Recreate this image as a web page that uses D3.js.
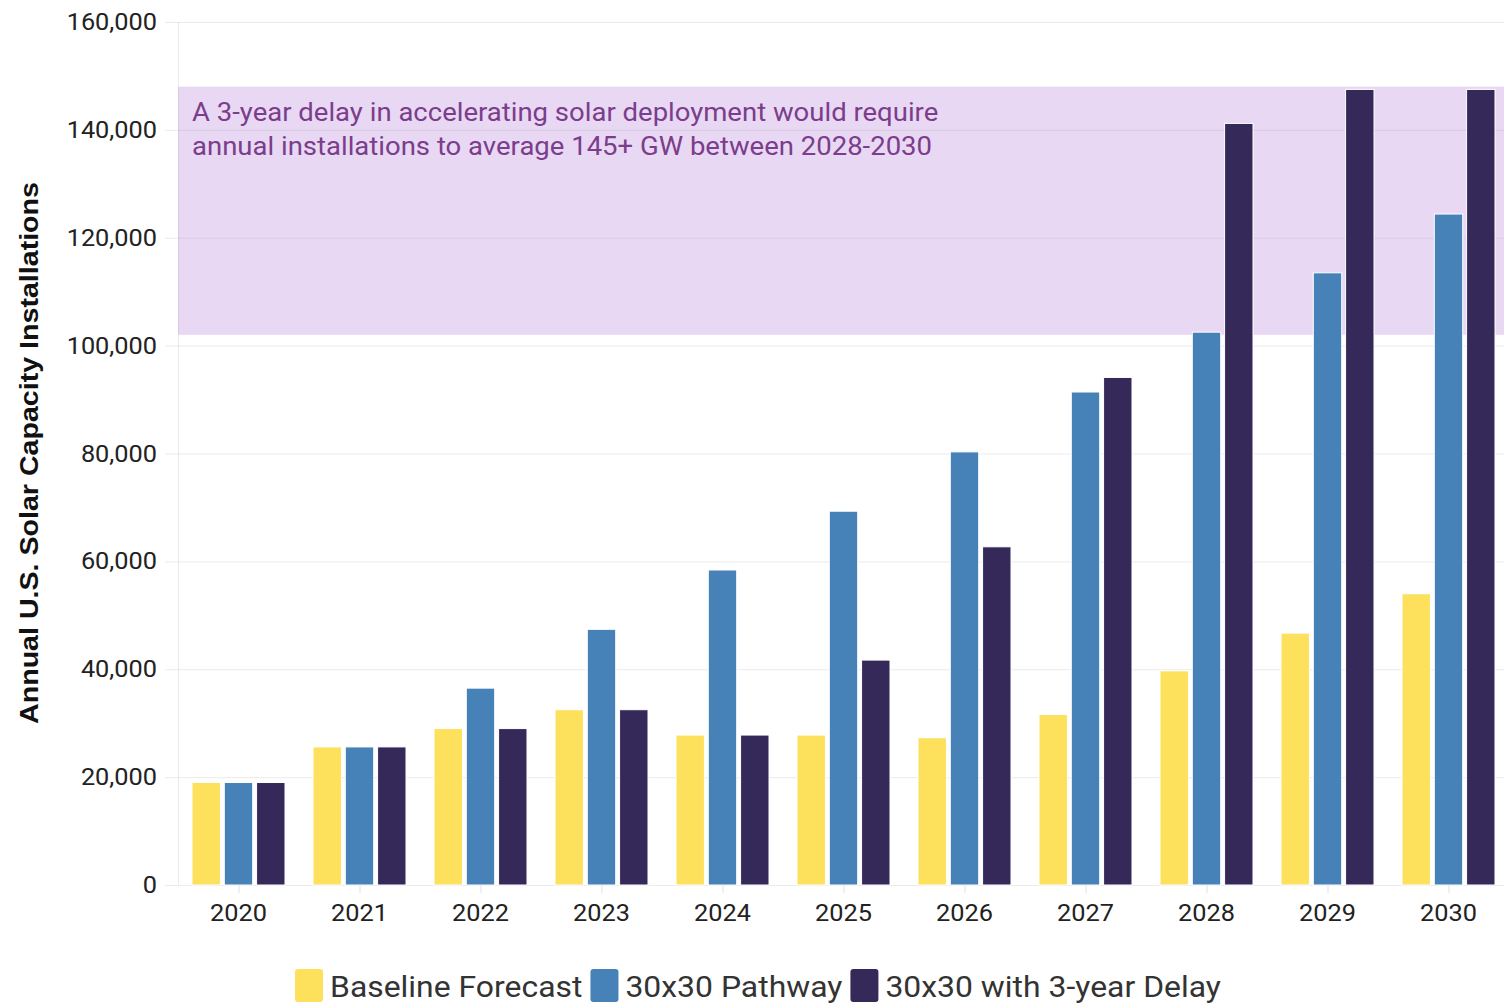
<!DOCTYPE html>
<html>
<head>
<meta charset="utf-8">
<script src="https://cdn.jsdelivr.net/npm/d3@7"></script>
<style>
  html, body { margin: 0; padding: 0; background: #fff; }
  svg { display: block; }
</style>
</head>
<body>
<svg id="chart" width="1504" height="1006"></svg>
<script>
const years = ["2020","2021","2022","2023","2024","2025","2026","2027","2028","2029","2030"];
const seriesNames = ["Baseline Forecast", "30x30 Pathway", "30x30 with 3-year Delay"];
const baseline = [19000, 25600, 29000, 32500, 27800, 27800, 27300, 31600, 39700, 46700, 54000];
const pathway  = [19000, 25600, 36500, 47400, 58400, 69300, 80300, 91400, 102500, 113500, 124400];
const delayed  = [19000, 25600, 29000, 32500, 27800, 41700, 62700, 94100, 141200, 147500, 147500];
const yTicks = [0, 20000, 40000, 60000, 80000, 100000, 120000, 140000, 160000];
const bandRange = [102000, 148000];
const annotationLines = [
  "A 3-year delay in accelerating solar deployment would require",
  "annual installations to average 145+ GW between 2028-2030"
];
const yTitle = "Annual U.S. Solar Capacity Installations";
const colors = ["#FDE05B", "#4682B8", "#35295A"];

(function () {
const svg = d3.select("#chart");
const pLeft = 178, pTop = 22, pBottom = 885, step = 121;
const stretchK = 1.1;
function stretch(sel) {
  sel.each(function () {
    const w = this.getComputedTextLength();
    d3.select(this).attr("textLength", w * stretchK).attr("lengthAdjust", "spacingAndGlyphs");
  });
  return sel;
}
const x = d3.scaleBand().domain(years).range([pLeft, pLeft + step * years.length]).paddingInner(0).paddingOuter(0);
const inner = d3.scaleBand().domain([0,1,2]).range([14, 107]).paddingInner(0.12);
const y = d3.scaleLinear().domain([0, 160000]).range([pBottom, pTop]);

// band
svg.append("rect")
  .attr("x", pLeft).attr("y", y(bandRange[1]))
  .attr("width", 1504 - pLeft).attr("height", y(bandRange[0]) - y(bandRange[1]))
  .attr("fill", "#E8D8F3");

// gridlines
svg.append("g").selectAll("line").data(yTicks).join("line")
  .attr("x1", 165).attr("x2", 1504)
  .attr("y1", d => y(d) + 0.5).attr("y2", d => y(d) + 0.5)
  .attr("stroke", "#8a8a9a").attr("stroke-opacity", 0.17).attr("stroke-width", 1);

// vertical axis line
svg.append("line").attr("x1", pLeft + 0.5).attr("x2", pLeft + 0.5).attr("y1", pTop).attr("y2", pBottom)
  .attr("stroke", "#8a8a9a").attr("stroke-opacity", 0.17);

// y tick labels
stretch(svg.append("g").selectAll("text").data(yTicks).join("text")
  .attr("x", 157).attr("y", d => y(d)).attr("dy", "0.35em")
  .attr("text-anchor", "end")
  .attr("font-family", "Roboto, sans-serif").attr("font-size", 23).attr("fill", "#222")
  .text(d => d3.format(",")(d)));

// x ticks and labels
const xg = svg.append("g");
xg.selectAll("line").data(years).join("line")
  .attr("x1", d => x(d) + step/2 + 0.5).attr("x2", d => x(d) + step/2 + 0.5)
  .attr("y1", pBottom).attr("y2", pBottom + 8)
  .attr("stroke", "#8a8a9a").attr("stroke-opacity", 0.25);
stretch(xg.selectAll("text").data(years).join("text")
  .attr("x", d => x(d) + step/2).attr("y", 921)
  .attr("text-anchor", "middle")
  .attr("font-family", "Roboto, sans-serif").attr("font-size", 23).attr("fill", "#222")
  .text(d => d));

// bars
const allSeries = [baseline, pathway, delayed];
const bars = svg.append("g");
allSeries.forEach((vals, si) => {
  bars.selectAll(null).data(vals).join("rect")
    .attr("x", (d, i) => x(years[i]) + inner(si))
    .attr("y", d => y(d))
    .attr("width", inner.bandwidth())
    .attr("height", d => y(0) - y(d))
    .attr("fill", colors[si])
    .attr("stroke", "#ffffff").attr("stroke-width", 1);
});

// annotation
stretch(svg.append("g").selectAll("text").data(annotationLines).join("text")
  .attr("x", 192).attr("y", (d, i) => 121 + i * 34)
  .attr("font-family", "Roboto, sans-serif").attr("font-size", 25).attr("fill", "#7B3D8C")
  .text(d => d));

// y title
stretch(svg.append("text")
  .attr("transform", "translate(38,453) rotate(-90)")
  .attr("text-anchor", "middle")
  .attr("font-family", "'Liberation Sans', Arial, sans-serif").attr("font-weight", "bold")
  .attr("font-size", 26).attr("fill", "#111")
  .text(yTitle));

// legend
const lg = svg.append("g");
let lx = 295;
seriesNames.forEach((name, i) => {
  lg.append("rect").attr("x", lx).attr("y", 969).attr("width", 28).attr("height", 33)
    .attr("rx", 3).attr("fill", colors[i]);
  const t = lg.append("text").attr("x", lx + 35).attr("y", 997)
    .attr("font-family", "Roboto, sans-serif").attr("font-size", 29).attr("fill", "#333")
    .text(name);
  const w = t.node().getComputedTextLength() * stretchK;
  t.attr("textLength", w).attr("lengthAdjust", "spacingAndGlyphs");
  lx += 35 + w + 8;
});
})();
</script>
</body>
</html>
